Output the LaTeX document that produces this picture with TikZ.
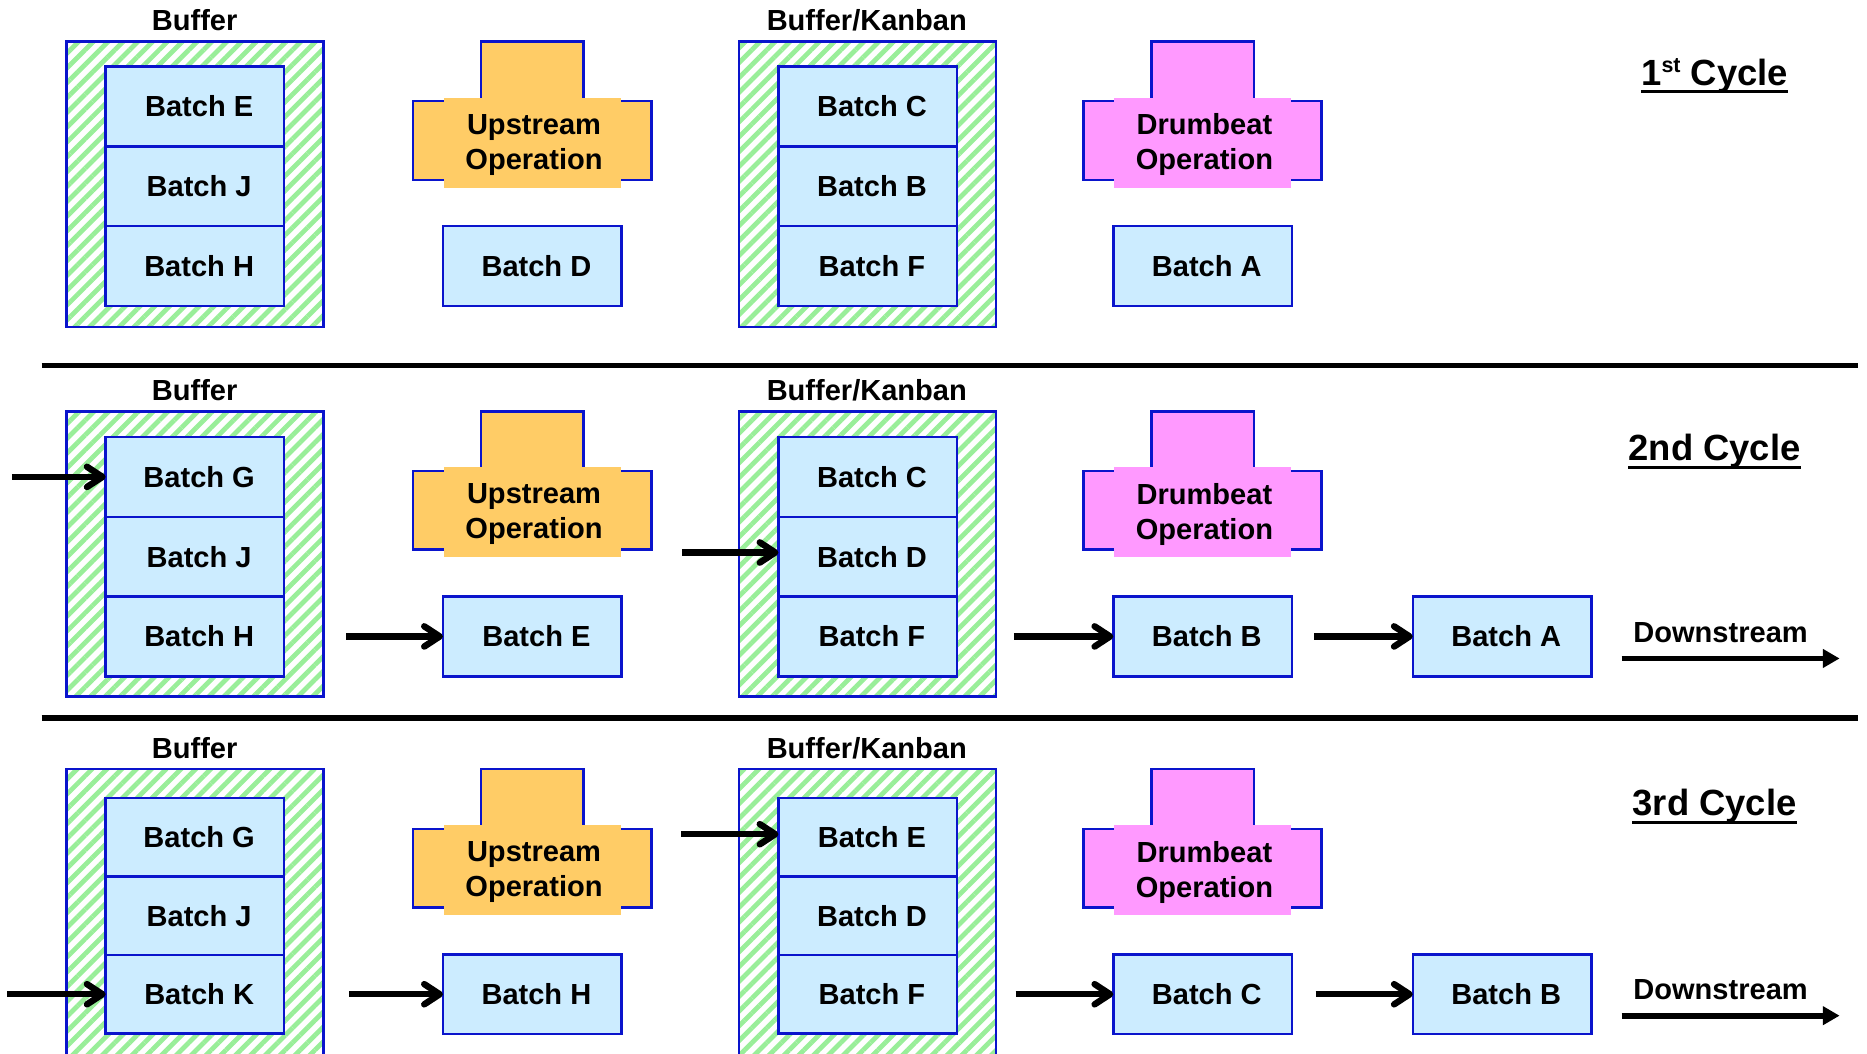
\documentclass[tikz,border=0pt]{standalone}
\usepackage{fontspec}
\setmainfont{Liberation Sans}
\usepackage{tikz}
\usetikzlibrary{arrows.meta,positioning,calc,patterns.meta}

\definecolor{batchblue}{HTML}{CCECFF}
\definecolor{edgeblue}{HTML}{0A14CC}
\definecolor{hatchgreen}{HTML}{99EE99}
\definecolor{oporange}{HTML}{FFCC66}
\definecolor{oppink}{HTML}{FF99FF}

\begin{document}
\begin{tikzpicture}[x=0.5pt, y=-0.5pt,
        txt/.style={font=\fontsize{12.2}{14.8}\selectfont\bfseries},
        batch/.style={txt, draw=edgeblue, line width=1pt, fill=batchblue,
            minimum width=75pt, minimum height=33.5pt, inner sep=0pt, outer sep=0pt,
            execute at begin node={\hspace*{3.5pt}}},
        store/.style={draw=edgeblue, line width=1pt, anchor=north,
            pattern={Lines[angle=45,distance=4.4pt,line width=2pt]}, pattern color=hatchgreen,
            minimum width=108pt, inner sep=0pt, outer sep=0pt},
        opline/.style={draw=edgeblue, line width=1pt},
        optext/.style={txt, align=center, inner sep=0pt},
        flow/.style={line width=2.7pt, -{Straight Barb[round, length=6.5pt, width=8.5pt]}},
        outflow/.style={line width=2.4pt, -{Triangle[length=7pt, width=7.5pt]}},
        sepline/.style={line width=2.2pt},
        cyclelabel/.style={font=\fontsize{15.3}{18}\selectfont\bfseries, inner sep=0pt, anchor=base}]

    \useasboundingbox (0,0) rectangle (1568,885);

    % parts that every cycle has
    \foreach \r/\y/\h in {1/35/119.75pt, 2/345.5/119.75pt, 3/646/122pt} {
        \node[store, minimum height=\h] (buf\r) at (163.75,\y) {};
        \node[store, minimum height=\h] (kan\r) at (728.5,\y) {};
        \node[txt] (bl\r) at (163.5,\y-18) {Buffer};
        \node[txt] (kl\r) at (728,\y-18) {Buffer/Kanban};
        \foreach \x/\c/\t/\n in {447/oporange/Upstream/up, 1010/oppink/Drumbeat/dr} {
            \draw[opline, fill=\c] (\x-43,\y) rectangle (\x+43,\y+50);
            \draw[opline, fill=\c] (\x-100,\y+50) rectangle (\x+100,\y+116);
            \fill[\c] (\x-74.5,\y+47) rectangle (\x+74.5,\y+122.5);
            \node[optext] (\n\r) at (\x+1.5,\y+86.5) {\t\\Operation};
        }
    }

    % 1st cycle
    \node[batch] (e1) at (163.75,89.5) {Batch E};
    \node[batch, below=0pt of e1] (j1) {Batch J};
    \node[batch, below=0pt of j1] (h1) {Batch H};
    \node[batch] (d1) at (447,223.5) {Batch D};
    \node[batch] (c1) at (728.8,89.5) {Batch C};
    \node[batch, below=0pt of c1] (b1) {Batch B};
    \node[batch, below=0pt of b1] (f1) {Batch F};
    \node[batch] (a1) at (1010,223.5) {Batch A};
    \node[cyclelabel] (cy1) at (1440,71.5) {1\raisebox{5.5pt}{\fontsize{9}{9}\selectfont st} Cycle};

    \draw[sepline] (35,307) -- (1560,307);

    % 2nd cycle
    \node[batch] (g2) at (163.75,400.5) {Batch G};
    \node[batch, below=0pt of g2] (j2) {Batch J};
    \node[batch, below=0pt of j2] (h2) {Batch H};
    \node[batch] (e2) at (447,534.5) {Batch E};
    \node[batch] (c2) at (728.8,400.5) {Batch C};
    \node[batch, below=0pt of c2] (d2) {Batch D};
    \node[batch, below=0pt of d2] (f2) {Batch F};
    \node[batch] (b2) at (1010,534.5) {Batch B};
    \node[batch] (a2) at (1261.5,534.5) {Batch A};
    \node[cyclelabel] (cy2) at (1440,387) {2nd Cycle};
    \node[txt] (dl2) at (1445,531) {Downstream};

    \coordinate (in2) at (10,400.5);
    \coordinate (feed2) at (573,464);
    \coordinate (ds2) at (1362,553);
    \coordinate (de2) at (1545,553);
    \draw[flow] (in2) -- (g2.west);
    \draw[flow, shorten <=9.5pt] (buf2.east |- e2.west) -- (e2.west);
    \draw[flow] (feed2) -- (feed2 -| d2.west);
    \draw[flow, shorten <=7.5pt] (kan2.east |- b2.west) -- (b2.west);
    \draw[flow, shorten <=9.3pt] (b2.east) -- (a2.west);
    \draw[outflow] (ds2) -- (de2);

    \draw[sepline] (35,603) -- (1560,603);

    % 3rd cycle
    \node[batch, minimum height=33pt] (g3) at (163.75,703) {Batch G};
    \node[batch, minimum height=33pt, below=0pt of g3] (j3) {Batch J};
    \node[batch, minimum height=33pt, below=0pt of j3] (k3) {Batch K};
    \node[batch] (h3) at (447,835) {Batch H};
    \node[batch, minimum height=33pt] (e3) at (728.8,703) {Batch E};
    \node[batch, minimum height=33pt, below=0pt of e3] (d3) {Batch D};
    \node[batch, minimum height=33pt, below=0pt of d3] (f3) {Batch F};
    \node[batch] (c3) at (1010,835) {Batch C};
    \node[batch] (b3) at (1261.5,835) {Batch B};
    \node[cyclelabel] (cy3) at (1440,685) {3rd Cycle};
    \node[txt] (dl3) at (1445,831) {Downstream};

    \coordinate (in3) at (6,835);
    \coordinate (feed3) at (572,700.6);
    \coordinate (ds3) at (1362,853);
    \coordinate (de3) at (1545,853);
    \draw[flow] (in3) -- (k3.west);
    \draw[flow, shorten <=10.75pt] (buf3.east |- h3.west) -- (h3.west);
    \draw[flow] (feed3) -- (feed3 -| e3.west);
    \draw[flow, shorten <=8.25pt] (kan3.east |- c3.west) -- (c3.west);
    \draw[flow, shorten <=10pt] (c3.east) -- (b3.west);
    \draw[outflow] (ds3) -- (de3);

    % underlines of the cycle titles
    \foreach \r in {1,2,3}
        \draw[line width=1.3pt] ([yshift=-2.8pt]cy\r.base west) -- ([yshift=-2.8pt]cy\r.base east);
\end{tikzpicture}
\end{document}
